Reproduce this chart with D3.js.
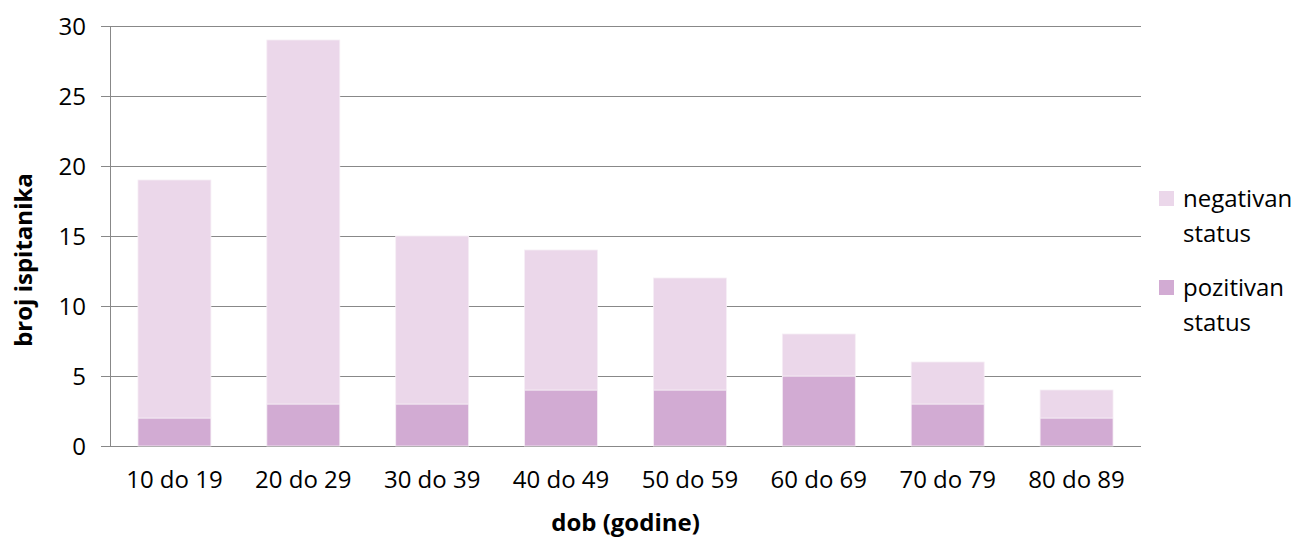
<!DOCTYPE html>
<html>
<head>
<meta charset="utf-8">
<script src="https://cdn.jsdelivr.net/npm/d3@7"></script>
<style>
  html, body { margin: 0; padding: 0; background: #fff; }
  svg { display: block; font-family: "Open Sans", sans-serif; }
</style>
</head>
<body>
<svg id="chart" width="1298" height="538"></svg>
<script>
const categories = ["10 do 19", "20 do 29", "30 do 39", "40 do 49", "50 do 59", "60 do 69", "70 do 79", "80 do 89"];
const pozitivan = [2, 3, 3, 4, 4, 5, 3, 2];
const negativan = [17, 26, 12, 10, 8, 3, 3, 2];
const yTicks = [0, 5, 10, 15, 20, 25, 30];
const seriesNames = ["negativan status", "pozitivan status"];

const svg = d3.select("#chart");
const pLeft = 110, pRight = 1141, pTop = 26, pBottom = 446;
const fs = 24;

const x = d3.scaleBand().domain(categories).range([pLeft, pRight]).paddingInner(0.434).paddingOuter(0.217);
const y = d3.scaleLinear().domain([0, 30]).range([pBottom, pTop]);

const colNeg = "#ebd7ea", colPos = "#d2abd3", gridCol = "#888888";

// gridlines
svg.append("g").selectAll("line").data(yTicks).join("line")
  .attr("x1", pLeft - 9).attr("x2", pRight)
  .attr("y1", d => Math.round(y(d)) + 0.5).attr("y2", d => Math.round(y(d)) + 0.5)
  .attr("stroke", gridCol).attr("stroke-width", 1);

// stacked data
const rows = categories.map((c, i) => ({cat: c, pozitivan: pozitivan[i], negativan: negativan[i]}));
const stack = d3.stack().keys(["pozitivan", "negativan"])(rows);
const colors = {pozitivan: colPos, negativan: colNeg};

svg.append("g").selectAll("g").data(stack).join("g")
  .attr("fill", d => colors[d.key])
  .selectAll("rect").data(d => d).join("rect")
  .attr("x", d => x(d.data.cat))
  .attr("width", x.bandwidth())
  .attr("y", d => y(d[1]))
  .attr("height", d => y(d[0]) - y(d[1]))
  .attr("stroke", "#f6eef5").attr("stroke-width", 0.8);

// y axis line
svg.append("line").attr("x1", pLeft + 0.5).attr("x2", pLeft + 0.5)
  .attr("y1", pTop).attr("y2", pBottom + 1).attr("stroke", gridCol);

// y tick labels
svg.append("g").selectAll("text").data(yTicks).join("text")
  .attr("x", 86).attr("y", d => y(d) + 9)
  .attr("text-anchor", "end").attr("font-size", fs).attr("fill", "#000")
  .text(d => d);

// x tick labels
svg.append("g").selectAll("text").data(categories).join("text")
  .attr("x", d => x(d) + x.bandwidth() / 2).attr("y", 488)
  .attr("text-anchor", "middle").attr("font-size", fs).attr("fill", "#000")
  .text(d => d);

// axis titles
svg.append("text").attr("x", (pLeft + pRight) / 2).attr("y", 531)
  .attr("text-anchor", "middle").attr("font-size", fs).attr("font-weight", "bold")
  .text("dob (godine)");
svg.append("text").attr("transform", "translate(32,260) rotate(-90)")
  .attr("text-anchor", "middle").attr("font-size", fs).attr("font-weight", "bold")
  .text("broj ispitanika");

// legend
const legend = [
  {name: seriesNames[0], color: colNeg, y: 191},
  {name: seriesNames[1], color: colPos, y: 280}
];
const lg = svg.append("g").selectAll("g").data(legend).join("g");
lg.append("rect").attr("x", 1159).attr("y", d => d.y).attr("width", 15).attr("height", 15)
  .attr("fill", d => d.color);
lg.append("text").attr("font-size", fs).attr("fill", "#000")
  .each(function(d) {
    const words = d.name.split(" ");
    const t = d3.select(this);
    words.forEach((w, i) => {
      t.append("tspan").attr("x", 1183).attr("y", d.y + 16 + i * 35).text(w);
    });
  });
</script>
</body>
</html>
